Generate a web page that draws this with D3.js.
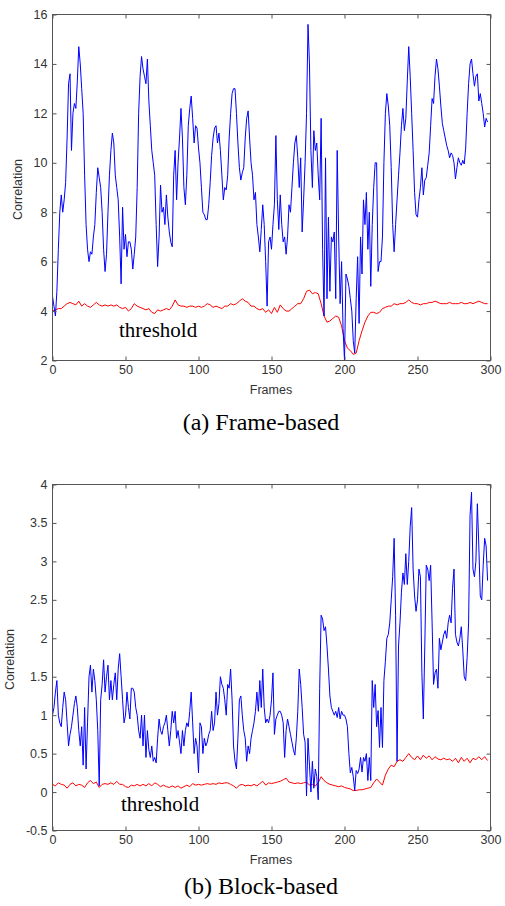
<!DOCTYPE html>
<html><head><meta charset="utf-8">
<script src="https://cdn.jsdelivr.net/npm/d3@7/dist/d3.min.js"></script>
<style>body{margin:0;background:#fff}svg{display:block}</style>
</head><body><svg id="c" width="505" height="906"></svg>
<script>
// ---------- data ----------
const frameTicks = [0, 50, 100, 150, 200, 250, 300];
const topYTicks = [2, 4, 6, 8, 10, 12, 14, 16];
const botYTicks = [-0.5, 0, 0.5, 1, 1.5, 2, 2.5, 3, 3.5, 4];
const botYTickLabels = ["-0.5","0","0.5","1","1.5","2","2.5","3","3.5","4"];

// (a) frame-based correlation, one value per frame 0..298
const frameCorr = [
4.6,4.2,3.8,4.8,6.5,8.0,8.7,8.0,8.5,9.2,
11.0,13.2,13.6,10.5,12.0,12.4,12.2,13.3,14.7,14.0,
13.0,12.0,9.5,7.5,6.5,6.0,6.4,6.3,7.0,7.5,
8.8,9.8,9.4,9.0,8.0,6.5,5.6,6.3,8.0,9.5,
10.5,11.2,10.8,9.5,9.0,8.5,7.0,5.1,8.2,6.5,
7.1,6.2,6.8,6.8,6.5,5.7,6.3,7.0,9.0,12.0,
13.5,14.3,13.8,13.5,13.2,14.2,12.5,11.5,10.5,10.0,
9.5,7.5,5.8,7.0,9.1,8.0,8.2,7.5,8.7,7.8,
7.2,6.8,6.6,9.5,10.5,8.5,10.0,11.0,12.2,11.0,
9.0,8.3,9.5,11.5,12.2,12.7,11.8,10.8,11.5,11.4,
10.6,10.0,9.0,8.0,7.9,7.7,7.7,8.3,9.2,10.3,
11.0,11.4,11.5,10.8,11.2,10.5,9.5,8.5,9.0,8.9,
9.5,11.0,12.0,12.8,13.0,13.0,12.0,10.8,9.8,9.3,
9.6,9.8,11.0,11.8,12.1,11.0,10.0,9.5,8.5,8.8,
7.5,7.0,6.4,7.3,8.3,7.5,6.0,4.2,6.8,7.0,
6.5,7.5,8.3,11.1,8.5,7.3,8.7,7.5,6.8,7.0,
6.3,7.0,8.3,8.0,9.0,10.0,10.8,11.1,10.2,9.0,
10.2,7.2,8.5,10.0,12.0,15.6,14.0,10.5,9.0,11.3,
10.5,10.8,9.5,8.5,11.8,6.5,3.8,10.2,4.5,7.8,
4.8,7.0,6.8,7.2,4.5,10.5,7.0,4.3,6.0,3.3,
2.0,5.5,5.3,5.0,4.5,4.0,2.8,2.3,4.5,6.2,
3.5,7.0,5.5,8.5,7.5,8.8,6.5,8.0,5.0,7.5,
9.0,10.0,10.0,5.6,6.0,6.0,7.0,10.0,12.0,12.8,
12.3,11.5,9.8,7.5,6.4,7.5,8.5,9.5,10.4,11.5,
12.2,11.3,11.8,13.3,14.7,13.5,12.0,10.5,8.8,7.9,
7.8,8.5,9.0,9.8,8.7,9.3,9.4,9.9,10.4,11.5,
12.6,12.4,13.5,14.2,13.8,13.1,12.3,11.6,11.3,11.0,
10.7,10.5,10.2,10.4,10.3,10.0,9.35,9.8,10.2,10.0,
9.9,10.1,9.95,10.6,12.0,13.2,14.0,14.2,13.6,13.1,
13.5,13.6,12.5,12.8,12.4,12.0,11.45,11.8,11.65
];
// (a) threshold, one value every 2 frames (0,2,...,298)
const frameThr = [
4.0,4.05,4.1,4.1,4.2,4.3,4.35,4.3,4.25,4.4,
4.2,4.3,4.2,4.15,4.25,4.35,4.25,4.2,4.25,4.2,
4.25,4.2,4.25,4.15,4.1,4.15,4.0,4.1,4.3,4.2,
4.15,4.1,4.05,4.1,3.95,3.9,4.05,4.0,4.05,4.1,
4.05,4.2,4.45,4.25,4.2,4.2,4.15,4.2,4.2,4.15,
4.2,4.15,4.2,4.3,4.25,4.15,4.2,4.15,4.1,4.2,
4.2,4.3,4.25,4.3,4.4,4.5,4.4,4.35,4.2,4.2,
4.1,4.05,4.1,3.95,4.05,3.9,4.15,3.95,4.25,4.1,
4.0,4.0,4.1,4.2,4.3,4.3,4.5,4.8,4.85,4.7,
4.75,4.7,4.3,3.8,3.55,3.6,3.7,3.8,3.75,3.4,
2.8,2.5,2.4,2.25,2.3,2.8,3.2,3.55,3.8,3.95,
3.95,3.9,3.95,4.1,4.15,4.2,4.2,4.3,4.25,4.3,
4.3,4.35,4.45,4.35,4.3,4.3,4.25,4.3,4.3,4.35,
4.35,4.4,4.35,4.3,4.3,4.3,4.35,4.3,4.3,4.3,
4.35,4.3,4.3,4.35,4.3,4.35,4.4,4.35,4.3,4.3
];
// (b) block-based correlation, one value per frame 0..298
const blockCorr = [
1.0,1.1,1.3,1.45,1.0,0.9,0.85,1.1,1.3,1.2,
0.9,0.6,0.75,0.85,1.0,1.15,1.25,1.1,0.8,0.6,
0.85,0.35,1.1,0.3,0.9,1.5,1.65,1.3,1.6,1.45,
1.2,0.8,0.08,1.2,1.4,1.72,1.3,1.5,1.65,1.2,
1.45,1.2,1.4,1.55,1.2,1.6,1.8,1.5,1.2,0.9,
1.0,1.3,1.1,0.95,1.35,1.35,1.3,1.1,1.0,0.8,
0.7,1.0,0.6,1.0,0.45,0.8,0.55,0.45,0.6,0.4,
0.45,0.38,0.7,0.95,0.8,0.75,0.85,0.9,1.0,0.8,
0.6,0.8,1.05,0.9,1.05,0.7,0.8,0.65,0.5,0.8,
0.6,0.8,0.9,0.85,1.05,1.3,0.9,0.5,0.7,0.6,
0.25,0.9,0.85,0.5,0.7,0.6,0.65,0.75,0.8,1.05,
0.8,0.9,1.3,1.0,1.15,1.5,1.4,1.35,1.2,1.0,
1.4,1.35,1.6,1.2,0.6,0.4,0.3,0.7,1.2,1.25,
1.0,0.8,0.7,0.4,0.6,0.5,0.7,0.8,0.9,1.05,
1.3,1.05,1.45,1.1,1.6,1.1,0.9,0.95,0.9,1.0,
1.2,1.55,0.75,0.95,1.0,1.05,1.05,1.0,0.9,0.45,
0.8,0.95,0.85,0.75,0.65,0.55,0.48,0.7,1.05,1.6,
1.4,1.1,0.75,0.65,-0.05,0.7,0.35,0.0,0.4,0.05,
0.3,0.2,-0.1,1.35,2.3,2.25,2.1,2.15,1.9,1.6,
1.25,1.1,1.05,1.0,1.05,0.97,1.1,0.95,1.05,1.0,
1.0,0.95,0.85,0.5,0.25,0.32,0.2,0.02,0.28,0.24,
0.3,0.45,0.26,0.45,0.4,0.5,0.15,0.45,0.15,1.45,
1.1,1.4,0.85,1.06,0.58,1.1,0.58,1.45,1.7,2.0,
2.05,2.2,2.5,2.8,3.3,2.3,0.4,1.9,2.2,2.6,
2.85,2.7,3.1,2.7,3.0,3.45,3.7,2.9,2.55,2.35,
2.5,2.9,2.8,1.55,0.95,1.9,2.95,2.9,2.75,2.95,
2.2,1.4,1.55,1.6,1.35,2.0,1.85,1.95,2.05,2.1,
2.0,2.2,2.3,2.2,2.65,2.9,2.05,1.95,1.9,2.0,
2.15,1.85,1.5,1.45,1.75,2.2,3.6,3.9,2.9,2.8,
3.0,3.75,3.2,2.55,2.5,2.95,3.3,3.2,2.75
];
// (b) threshold, one value every 2 frames
const blockThr = [
0.1,0.08,0.12,0.1,0.09,0.05,0.1,0.12,0.08,0.1,
0.09,0.06,0.12,0.15,0.11,0.13,0.06,0.1,0.11,0.1,
0.12,0.1,0.14,0.1,0.1,0.07,0.06,0.09,0.08,0.1,
0.08,0.1,0.08,0.11,0.08,0.12,0.1,0.07,0.09,0.07,
0.06,0.08,0.06,0.08,0.05,0.07,0.09,0.07,0.11,0.09,
0.1,0.09,0.1,0.11,0.1,0.11,0.1,0.12,0.11,0.12,
0.12,0.1,0.08,0.05,0.09,0.1,0.08,0.09,0.08,0.1,
0.08,0.11,0.14,0.09,0.12,0.11,0.12,0.13,0.14,0.16,
0.18,0.13,0.12,0.11,0.12,0.11,0.12,0.13,0.09,0.1,
0.08,0.12,0.2,0.15,0.12,0.1,0.09,0.08,0.07,0.08,
0.06,0.05,0.04,0.02,0.02,0.03,0.03,0.04,0.05,0.06,
0.12,0.17,0.13,0.09,0.22,0.3,0.35,0.33,0.4,0.42,
0.4,0.45,0.5,0.45,0.42,0.47,0.42,0.48,0.44,0.47,
0.42,0.46,0.43,0.42,0.44,0.42,0.43,0.4,0.44,0.38,
0.45,0.4,0.44,0.38,0.44,0.42,0.46,0.42,0.46,0.41
];

// ---------- drawing ----------
const svg = d3.select("#c");
const axisColor = "#555", textColor = "#333";
const sans = "'Liberation Sans', Arial, sans-serif";
const serif = "'Liberation Serif', 'Times New Roman', serif";

function panel(opt) {
  const x = d3.scaleLinear().domain([0, 300]).range([52.5, 490.5]);
  const y = d3.scaleLinear().domain(opt.yDomain).range([opt.bottom, opt.top]);
  const g = svg.append("g");

  const line = d3.line().x(d => x(d[0])).y(d => y(d[1]));
  const corr = opt.corr.map((v, i) => [i, v]);
  const thr = opt.thr.map((v, i) => [i * 2, v]);
  g.append("path").datum(thr).attr("d", line)
    .attr("fill", "none").attr("stroke", "#ff0000").attr("stroke-width", 1);
  g.append("path").datum(corr).attr("d", line)
    .attr("fill", "none").attr("stroke", "#0000ff").attr("stroke-width", 1);

  const fmt = opt.yLabels ? (d => opt.yLabels[opt.yTicks.indexOf(d)]) : d3.format("d");
  const ax = (sel) => {
    sel.selectAll(".domain").remove();
    sel.selectAll("line").attr("stroke", axisColor);
    sel.selectAll("text").attr("fill", textColor).style("font-family", sans).style("font-size", "12.5px");
  };
  g.append("g").attr("transform", `translate(0,${opt.bottom})`)
    .call(d3.axisBottom(x).tickValues(frameTicks).tickSize(-4).tickPadding(5)).call(ax);
  g.append("g").attr("transform", `translate(0,${opt.top})`)
    .call(d3.axisTop(x).tickValues(frameTicks).tickSize(-4).tickFormat("")).call(ax);
  g.append("g").attr("transform", `translate(52.5,0)`)
    .call(d3.axisLeft(y).tickValues(opt.yTicks).tickSize(-4).tickPadding(5).tickFormat(fmt)).call(ax);
  g.append("g").attr("transform", `translate(490.5,0)`)
    .call(d3.axisRight(y).tickValues(opt.yTicks).tickSize(-4).tickFormat("")).call(ax);

  g.append("rect").attr("x", 52.5).attr("y", opt.top).attr("width", 438).attr("height", opt.bottom - opt.top)
    .attr("fill", "none").attr("stroke", axisColor).attr("stroke-width", 1);

  g.append("text").attr("x", 271).attr("y", opt.bottom + 33).attr("text-anchor", "middle")
    .style("font-family", sans).style("font-size", "12.5px").attr("fill", textColor).text("Frames");
  g.append("text").attr("transform", `translate(${opt.ylabX},${(opt.top + opt.bottom) / 2 + 2}) rotate(-90)`)
    .attr("text-anchor", "middle").style("font-family", sans).style("font-size", "12.5px")
    .attr("fill", textColor).text("Correlation");
  g.append("text").attr("x", opt.thrX).attr("y", opt.thrY)
    .style("font-family", serif).style("font-size", "21px").attr("fill", "#000").text("threshold");
  g.append("text").attr("x", 261).attr("y", opt.capY).attr("text-anchor", "middle")
    .style("font-family", serif).style("font-size", "24px").attr("fill", "#000").text(opt.caption);
}

panel({ top: 14.5, bottom: 360.5, yDomain: [2, 16], yTicks: topYTicks, corr: frameCorr, thr: frameThr,
  ylabX: 22, thrX: 119, thrY: 337, capY: 430, caption: "(a) Frame-based" });
panel({ top: 484.5, bottom: 830.5, yDomain: [-0.5, 4], yTicks: botYTicks, yLabels: botYTickLabels,
  corr: blockCorr, thr: blockThr, ylabX: 14, thrX: 121, thrY: 811, capY: 894, caption: "(b) Block-based" });
</script></body></html>
